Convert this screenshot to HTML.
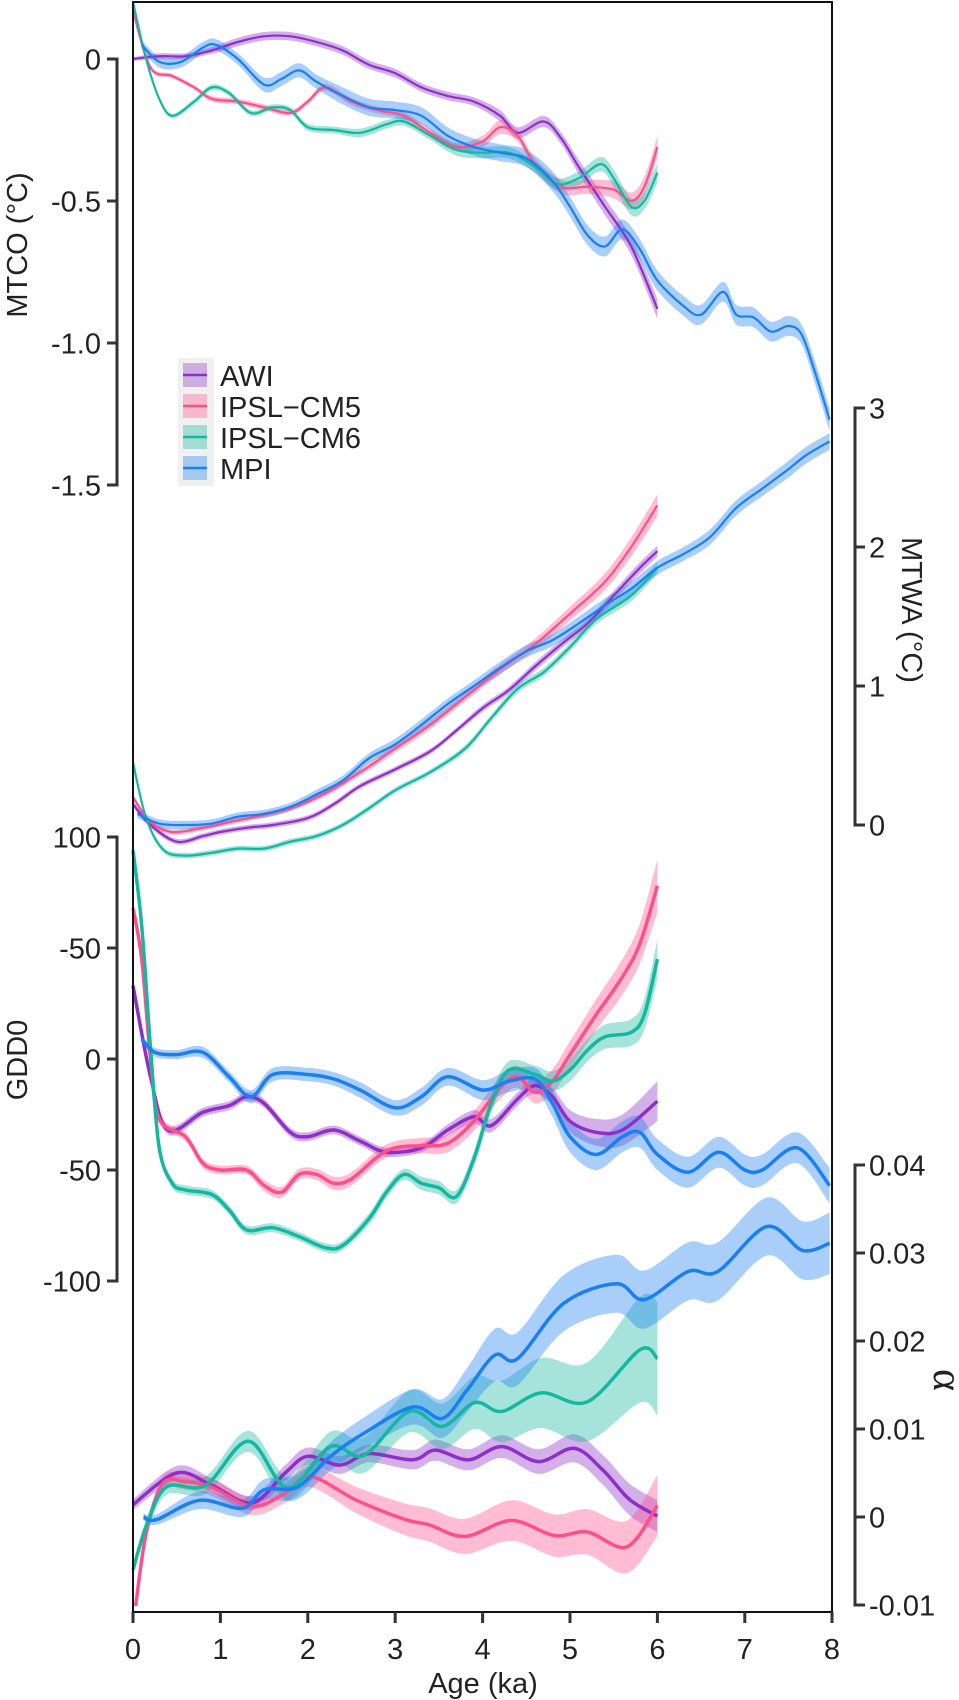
<!DOCTYPE html>
<html><head><meta charset="utf-8">
<style>
html,body{margin:0;padding:0;background:#fff;}
svg{display:block;}
text{font-family:"Liberation Sans",Arial,sans-serif;fill:#222;}
</style></head>
<body>
<svg id="chart" width="959" height="1700" viewBox="0 0 959 1700" xmlns="http://www.w3.org/2000/svg">
<g id="bands"></g>
<g id="lines"></g>
<rect x="133" y="2" width="699" height="1610" fill="none" stroke="#111" stroke-width="2"/>
<g id="axes"></g>
<g>
  <rect x="178" y="358" width="36" height="128" fill="#f0f0f0"/>
  <g>
    <rect x="183" y="363" width="24" height="24" fill="#8e30c8" fill-opacity="0.35"/>
    <line x1="183" y1="375" x2="207" y2="375" stroke="#8e30c8" stroke-width="2.5"/>
    <text x="220" y="386" font-size="29">AWI</text></g>
  <g>
    <rect x="183" y="394" width="24" height="24" fill="#ff4f8b" fill-opacity="0.35"/>
    <line x1="183" y1="406" x2="207" y2="406" stroke="#ff4f8b" stroke-width="2.5"/>
    <text x="220" y="417" font-size="29">IPSL−CM5</text></g>
  <g>
    <rect x="183" y="425" width="24" height="24" fill="#14b8a0" fill-opacity="0.35"/>
    <line x1="183" y1="437" x2="207" y2="437" stroke="#14b8a0" stroke-width="2.5"/>
    <text x="220" y="448" font-size="29">IPSL−CM6</text></g>
  <g>
    <rect x="183" y="456" width="24" height="24" fill="#1a7ff0" fill-opacity="0.35"/>
    <line x1="183" y1="468" x2="207" y2="468" stroke="#1a7ff0" stroke-width="2.5"/>
    <text x="220" y="479" font-size="29">MPI</text></g>
</g>
<text font-size="29" text-anchor="middle" transform="translate(27,245) rotate(-90)">MTCO (°C)</text>
<text font-size="29" text-anchor="middle" transform="translate(27,1060) rotate(-90)">GDD0</text>
<text font-size="29" text-anchor="middle" transform="translate(902,610) rotate(90)">MTWA (°C)</text>
<text font-size="42" text-anchor="middle" style="font-family:'Liberation Serif',serif" transform="translate(934,1380) rotate(90)">α</text>
<text font-size="29" text-anchor="middle" x="483" y="1693">Age (ka)</text>
</svg>
<script>
// ---------- x axis ----------
const xTicks = [0,1,2,3,4,5,6,7,8];
// ---------- MTCO ----------
const mtcoTicks = [0,-0.5,-1.0,-1.5];
const mtcoTickLabels = ["0","-0.5","-1.0","-1.5"];
const mtcoAwiKa = [0,0.3,0.6,0.9,1.2,1.5,1.8,2.1,2.4,2.7,3.0,3.3,3.6,3.9,4.2,4.4,4.7,4.9,5.1,5.4,5.7,6.0];
const mtcoAwiV  = [0,0.01,0.01,0.03,0.06,0.08,0.08,0.06,0.03,-0.02,-0.05,-0.10,-0.13,-0.15,-0.20,-0.26,-0.22,-0.28,-0.38,-0.52,-0.66,-0.88];
const mtcoAwiB  = [0.006,0.01,0.01,0.012,0.015,0.015,0.015,0.015,0.015,0.015,0.015,0.015,0.015,0.015,0.02,0.02,0.02,0.02,0.025,0.03,0.03,0.035];
const mtcoCm5Ka = [0,0.2,0.45,0.7,0.9,1.2,1.5,1.8,2.0,2.2,2.5,2.8,3.1,3.4,3.7,4.0,4.2,4.4,4.6,4.9,5.2,5.5,5.7,5.85,6.0];
const mtcoCm5V  = [0.17,-0.03,-0.06,-0.10,-0.14,-0.15,-0.17,-0.19,-0.15,-0.10,-0.15,-0.18,-0.20,-0.26,-0.31,-0.29,-0.24,-0.27,-0.37,-0.45,-0.45,-0.46,-0.50,-0.45,-0.31];
const mtcoCm5B  = [0.005,0.008,0.008,0.008,0.01,0.01,0.01,0.01,0.01,0.012,0.012,0.012,0.012,0.015,0.015,0.02,0.025,0.02,0.02,0.025,0.025,0.03,0.03,0.035,0.04];
const mtcoCm6Ka = [0,0.15,0.3,0.45,0.7,0.9,1.1,1.35,1.6,1.8,2.0,2.3,2.6,2.9,3.1,3.4,3.7,4.0,4.3,4.6,4.85,5.1,5.35,5.5,5.7,5.85,6.0];
const mtcoCm6V  = [0.20,0.0,-0.14,-0.20,-0.15,-0.10,-0.12,-0.19,-0.17,-0.18,-0.24,-0.25,-0.26,-0.23,-0.22,-0.27,-0.32,-0.33,-0.33,-0.38,-0.44,-0.42,-0.37,-0.42,-0.52,-0.50,-0.40];
const mtcoCm6B  = [0.005,0.008,0.008,0.008,0.01,0.01,0.01,0.01,0.01,0.01,0.012,0.012,0.015,0.015,0.015,0.015,0.02,0.02,0.02,0.02,0.02,0.025,0.025,0.03,0.03,0.03,0.035];
const mtcoMpiKa = [0.1,0.3,0.55,0.8,0.95,1.2,1.5,1.7,1.9,2.1,2.4,2.7,3.0,3.3,3.6,3.9,4.2,4.5,4.8,5.0,5.2,5.4,5.6,5.8,6.0,6.3,6.5,6.75,6.9,7.1,7.3,7.5,7.65,7.8,7.97];
const mtcoMpiV  = [0.05,-0.01,-0.01,0.04,0.05,0.0,-0.09,-0.07,-0.04,-0.08,-0.13,-0.17,-0.18,-0.20,-0.27,-0.31,-0.33,-0.35,-0.43,-0.52,-0.62,-0.66,-0.60,-0.67,-0.78,-0.87,-0.90,-0.82,-0.90,-0.91,-0.96,-0.94,-0.97,-1.10,-1.27];
const mtcoMpiB  = [0.015,0.02,0.02,0.02,0.02,0.02,0.025,0.025,0.025,0.025,0.03,0.03,0.03,0.03,0.03,0.03,0.03,0.03,0.035,0.035,0.035,0.035,0.035,0.035,0.035,0.035,0.035,0.035,0.035,0.035,0.035,0.035,0.035,0.04,0.04];
// ---------- MTWA ----------
const mtwaTicks = [3,2,1,0];
const mtwaTickLabels = ["3","2","1","0"];
const mtwaAwiKa = [0,0.2,0.5,0.8,1.0,1.3,1.6,2.0,2.3,2.6,3.0,3.4,3.7,4.0,4.3,4.6,4.9,5.2,5.5,5.8,6.0];
const mtwaAwiV  = [0.15,0.0,-0.12,-0.08,-0.05,-0.02,0.0,0.05,0.15,0.28,0.40,0.53,0.68,0.84,0.97,1.14,1.30,1.45,1.65,1.85,1.97];
const mtwaAwiB  = [0.02,0.02,0.02,0.02,0.02,0.02,0.02,0.02,0.02,0.02,0.02,0.02,0.02,0.025,0.025,0.03,0.03,0.03,0.035,0.04,0.04];
const mtwaCm5Ka = [0,0.2,0.45,0.8,1.1,1.4,1.8,2.2,2.6,3.0,3.4,3.8,4.2,4.6,5.0,5.4,5.7,6.0];
const mtwaCm5V  = [0.20,0.02,-0.05,-0.02,0.02,0.06,0.12,0.23,0.38,0.55,0.72,0.92,1.12,1.30,1.52,1.75,2.00,2.30];
const mtwaCm5B  = [0.02,0.02,0.02,0.02,0.02,0.02,0.02,0.025,0.025,0.03,0.03,0.03,0.035,0.04,0.05,0.06,0.07,0.08];
const mtwaCm6Ka = [0,0.15,0.35,0.6,0.9,1.2,1.5,1.8,2.1,2.4,2.7,3.0,3.4,3.8,4.1,4.4,4.7,5.0,5.3,5.7,6.0];
const mtwaCm6V  = [0.45,0.05,-0.18,-0.22,-0.20,-0.17,-0.17,-0.12,-0.08,0.0,0.12,0.25,0.38,0.55,0.77,0.98,1.10,1.28,1.48,1.65,1.85];
const mtwaCm6B  = [0.02,0.02,0.02,0.02,0.02,0.02,0.02,0.02,0.02,0.02,0.02,0.02,0.02,0.025,0.025,0.03,0.03,0.03,0.035,0.04,0.04];
const mtwaMpiKa = [0.05,0.3,0.6,0.9,1.2,1.5,1.8,2.1,2.4,2.7,3.0,3.3,3.6,3.9,4.2,4.5,4.8,5.1,5.4,5.7,6.0,6.3,6.6,6.9,7.2,7.5,7.7,7.97];
const mtwaMpiV  = [0.08,0.01,0.0,0.01,0.06,0.08,0.13,0.22,0.32,0.48,0.58,0.72,0.87,1.0,1.13,1.25,1.33,1.45,1.58,1.70,1.85,1.95,2.07,2.28,2.42,2.56,2.66,2.76];
const mtwaMpiB  = [0.03,0.03,0.03,0.03,0.03,0.03,0.03,0.035,0.035,0.035,0.04,0.04,0.04,0.04,0.045,0.045,0.045,0.05,0.05,0.05,0.05,0.05,0.055,0.055,0.055,0.06,0.06,0.06];
// ---------- GDD0 ----------
const gddTicks = [100,50,0,-50,-100];
const gddTickLabels = ["100","-50","0","-50","-100"];
const gddAwiKa = [0,0.2,0.4,0.8,1.1,1.3,1.5,1.8,2.0,2.3,2.6,2.9,3.3,3.6,3.9,4.1,4.4,4.6,4.8,5.0,5.3,5.6,6.0];
const gddAwiV  = [33,-8,-32,-24,-21,-17,-20,-33,-35,-32,-37,-42,-40,-32,-26,-30,-18,-12,-17,-28,-33,-32,-19];
const gddAwiB  = [1,1.5,2,2,2,2,2,2,2,2,2,2,2,2.5,3,3,3,3.5,4,5,6,7,9];
const gddCm5Ka = [0,0.1,0.2,0.3,0.6,0.8,1.0,1.3,1.5,1.7,1.9,2.1,2.3,2.5,2.8,3.0,3.3,3.6,3.9,4.2,4.4,4.6,4.8,5.0,5.3,5.6,5.8,6.0];
const gddCm5V  = [68,45,0,-27,-35,-47,-50,-50,-57,-60,-52,-52,-56,-54,-44,-40,-39,-38,-28,-13,-8,-15,-10,2,20,37,52,78];
const gddCm5B  = [1,1.5,2,2,2,2,2,2,2.5,2.5,2.5,2.5,3,3,3,3,3.5,4,4.5,5,5,5,5.5,6,7,8,9,12];
const gddCm6Ka = [0,0.1,0.2,0.3,0.45,0.6,0.9,1.1,1.3,1.6,1.9,2.2,2.4,2.7,2.9,3.1,3.3,3.5,3.7,3.9,4.1,4.3,4.6,4.8,5.0,5.2,5.4,5.7,5.85,6.0];
const gddCm6V  = [94,60,5,-40,-56,-59,-61,-68,-77,-76,-80,-85,-84,-72,-60,-52,-56,-58,-62,-45,-20,-5,-7,-10,-5,4,10,12,20,45];
const gddCm6B  = [1,1.5,2,2,2,2,2,2,2,2,2,2,2,2.5,2.5,2.5,3,3,3,3.5,4,4,4,4.5,5,5,5.5,6,7,9];
const gddMpiKa = [0.1,0.25,0.5,0.8,1.1,1.35,1.6,2.0,2.3,2.6,3.0,3.3,3.6,4.0,4.3,4.6,4.8,5.0,5.3,5.6,5.8,6.0,6.35,6.7,7.0,7.2,7.6,7.97];
const gddMpiV  = [9,3,2,3,-8,-17,-7,-7,-9,-14,-22,-17,-8,-14,-10,-9,-20,-35,-43,-35,-33,-43,-51,-42,-50,-50,-40,-57];
const gddMpiB  = [1.5,2,2,2.5,2.5,3,3,3,3,3.5,3.5,4,4,4.5,5,5,6,7,7,7,7,7,7,7,7,7,7,8];
// ---------- alpha ----------
const alphaTicks = [0.04,0.03,0.02,0.01,0,-0.01];
const alphaTickLabels = ["0.04","0.03","0.02","0.01","0","-0.01"];
const alphaAwiKa = [0,0.5,0.9,1.36,1.74,2.0,2.37,2.7,3.2,3.46,3.84,4.22,4.64,5.05,5.38,5.68,6.0];
const alphaAwiV  = [0.0014,0.005,0.0036,0.0016,0.005,0.0069,0.0059,0.0072,0.0065,0.0076,0.0065,0.008,0.0063,0.0078,0.0053,0.002,0.0001];
const alphaAwiB  = [0.0006,0.0008,0.0008,0.0008,0.0009,0.001,0.001,0.001,0.0011,0.0012,0.0012,0.0013,0.0014,0.0016,0.0017,0.0018,0.0018];
const alphaCm5Ka = [0.03,0.15,0.34,0.6,0.9,1.36,1.74,2.03,2.56,3.09,3.39,3.8,4.33,4.82,5.2,5.65,6.0];
const alphaCm5V  = [-0.0101,-0.0019,0.0038,0.004,0.0034,0.0012,0.0027,0.0046,0.0019,-0.0002,-0.0009,-0.0022,-0.0004,-0.0021,-0.0017,-0.0034,0.0013];
const alphaCm5B  = [0.0004,0.0006,0.0008,0.0009,0.001,0.001,0.0011,0.0012,0.0015,0.0018,0.0019,0.002,0.0023,0.0024,0.0026,0.003,0.0035];
const alphaCm6Ka = [0,0.15,0.38,0.83,1.32,1.77,2.26,2.64,3.16,3.54,3.91,4.22,4.67,5.2,5.8,6.0];
const alphaCm6V  = [-0.006,-0.0011,0.0034,0.0036,0.0086,0.0033,0.008,0.007,0.012,0.0103,0.013,0.012,0.0141,0.0131,0.019,0.018];
const alphaCm6B  = [0.0006,0.0008,0.0009,0.001,0.0012,0.0014,0.0017,0.002,0.0024,0.0026,0.003,0.0035,0.004,0.0045,0.006,0.0065];
const alphaMpiKa = [0.12,0.27,0.76,1.25,1.5,1.88,2.26,2.64,3.2,3.54,3.82,4.14,4.4,4.93,5.53,5.85,6.35,6.69,7.25,7.66,7.97];
const alphaMpiV  = [0,-0.0003,0.0019,0.001,0.0031,0.0034,0.0069,0.0095,0.0125,0.0112,0.0144,0.0184,0.018,0.0243,0.0265,0.0247,0.0279,0.0279,0.033,0.0303,0.0311];
const alphaMpiB  = [0.0004,0.0006,0.001,0.001,0.0012,0.0014,0.0016,0.0018,0.002,0.0022,0.0025,0.003,0.003,0.0032,0.0033,0.0033,0.0033,0.0033,0.0033,0.0033,0.0035];

const COLORS = {awi:"#8e30c8", cm5:"#ff4f8b", cm6:"#14b8a0", mpi:"#1a7ff0"};
const NS = "http://www.w3.org/2000/svg";
const xScale = k => 133 + k * 87.4;
const yMtco  = v => 59 - v * 284;
const yMtwa  = v => 825 - v * 139;
const yGdd   = v => 1059 - v * 2.22;
const yAlpha = v => 1517 - v * 8800;

function smoothPath(pts){
  let d = (pts.length ? "M"+pts[0][0].toFixed(1)+","+pts[0][1].toFixed(1) : "");
  for(let i=0;i<pts.length-1;i++){
    const p0=pts[Math.max(0,i-1)], p1=pts[i], p2=pts[i+1], p3=pts[Math.min(pts.length-1,i+2)];
    const c1x=p1[0]+(p2[0]-p0[0])/6, c1y=p1[1]+(p2[1]-p0[1])/6;
    const c2x=p2[0]-(p3[0]-p1[0])/6, c2y=p2[1]-(p3[1]-p1[1])/6;
    d+=" C"+c1x.toFixed(1)+","+c1y.toFixed(1)+" "+c2x.toFixed(1)+","+c2y.toFixed(1)+" "+p2[0].toFixed(1)+","+p2[1].toFixed(1);
  }
  return d;
}
const bandG = document.getElementById("bands");
const lineG = document.getElementById("lines");
function drawSeries(name, ka, vals, band, yS, color, width){
  const up = ka.map((k,i)=>[xScale(k), yS(vals[i]+band[i])]);
  const lo = ka.map((k,i)=>[xScale(k), yS(vals[i]-band[i])]).reverse();
  const bp = document.createElementNS(NS,"path");
  bp.setAttribute("d", smoothPath(up) + " L" + lo[0][0].toFixed(1)+","+lo[0][1].toFixed(1) + smoothPath(lo).replace(/^M[^C]*/," ") + " Z");
  bp.setAttribute("fill", color);
  bp.setAttribute("fill-opacity", "0.38");
  
  
  bandG.appendChild(bp);
  const lp = document.createElementNS(NS,"path");
  lp.setAttribute("d", smoothPath(ka.map((k,i)=>[xScale(k), yS(vals[i])])));
  lp.setAttribute("fill","none");
  lp.setAttribute("stroke", color);
  lp.setAttribute("stroke-width", width);
  
  
  lineG.appendChild(lp);
}
drawSeries("mtco-awi", mtcoAwiKa, mtcoAwiV, mtcoAwiB, yMtco, COLORS.awi, 2.2);
drawSeries("mtco-ipsl-cm5", mtcoCm5Ka, mtcoCm5V, mtcoCm5B, yMtco, COLORS.cm5, 2.2);
drawSeries("mtco-ipsl-cm6", mtcoCm6Ka, mtcoCm6V, mtcoCm6B, yMtco, COLORS.cm6, 2.2);
drawSeries("mtco-mpi", mtcoMpiKa, mtcoMpiV, mtcoMpiB, yMtco, COLORS.mpi, 2.2);
drawSeries("mtwa-awi", mtwaAwiKa, mtwaAwiV, mtwaAwiB, yMtwa, COLORS.awi, 2.2);
drawSeries("mtwa-ipsl-cm5", mtwaCm5Ka, mtwaCm5V, mtwaCm5B, yMtwa, COLORS.cm5, 2.2);
drawSeries("mtwa-ipsl-cm6", mtwaCm6Ka, mtwaCm6V, mtwaCm6B, yMtwa, COLORS.cm6, 2.2);
drawSeries("mtwa-mpi", mtwaMpiKa, mtwaMpiV, mtwaMpiB, yMtwa, COLORS.mpi, 2.2);
drawSeries("gdd0-awi", gddAwiKa, gddAwiV, gddAwiB, yGdd, COLORS.awi, 3.5);
drawSeries("gdd0-ipsl-cm5", gddCm5Ka, gddCm5V, gddCm5B, yGdd, COLORS.cm5, 3.5);
drawSeries("gdd0-ipsl-cm6", gddCm6Ka, gddCm6V, gddCm6B, yGdd, COLORS.cm6, 3.5);
drawSeries("gdd0-mpi", gddMpiKa, gddMpiV, gddMpiB, yGdd, COLORS.mpi, 3.5);
drawSeries("alpha-awi", alphaAwiKa, alphaAwiV, alphaAwiB, yAlpha, COLORS.awi, 3.5);
drawSeries("alpha-ipsl-cm5", alphaCm5Ka, alphaCm5V, alphaCm5B, yAlpha, COLORS.cm5, 3.5);
drawSeries("alpha-ipsl-cm6", alphaCm6Ka, alphaCm6V, alphaCm6B, yAlpha, COLORS.cm6, 3.5);
drawSeries("alpha-mpi", alphaMpiKa, alphaMpiV, alphaMpiB, yAlpha, COLORS.mpi, 3.5);

const axG = document.getElementById("axes");
function mk(tag, attrs, txt){
  const e = document.createElementNS(NS, tag);
  for(const k in attrs) e.setAttribute(k, attrs[k]);
  if(txt!==undefined) e.textContent = txt;
  axG.appendChild(e);
  return e;
}
function yAxis(name, ticks, labels, yS, side){
  const x0 = side==="left" ? 117 : 855;
  const dir = side==="left" ? -1 : 1;
  const sp = mk("line",{x1:x0,x2:x0,y1:yS(ticks[0]),y2:yS(ticks[ticks.length-1]),stroke:"#333","stroke-width":3});
  
  
  ticks.forEach((t,i)=>{
    const y = yS(t);
    const tk = mk("line",{x1:x0-1.5*dir,x2:x0+10*dir,y1:y,y2:y,stroke:"#333","stroke-width":3});
    
    
    const lb = mk("text",{x: side==="left" ? 101 : 869, y: y+10.5, "font-size":29, "text-anchor": side==="left"?"end":"start"}, labels[i]);
    
    
  });
}
yAxis("mtco", mtcoTicks, mtcoTickLabels, yMtco, "left");
yAxis("mtwa", mtwaTicks, mtwaTickLabels, yMtwa, "right");
yAxis("gdd0", gddTicks, gddTickLabels, yGdd, "left");
yAxis("alpha", alphaTicks, alphaTickLabels, yAlpha, "right");
xTicks.forEach(t=>{
  const x = Math.min(xScale(t), 832);
  const tk = mk("line",{x1:x,x2:x,y1:1612,y2:1623,stroke:"#333","stroke-width":3});
  
  
  const lb = mk("text",{x:x,y:1659,"font-size":29,"text-anchor":"middle"}, String(t));
  
  
});
</script>
</body></html>
